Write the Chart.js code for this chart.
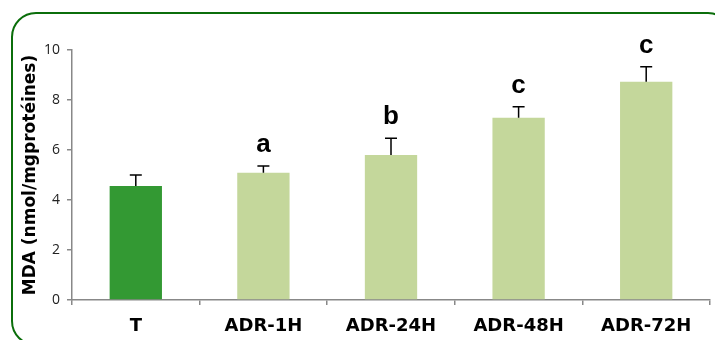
<!DOCTYPE html>
<html lang="fr">
<head>
  <meta charset="UTF-8">
  <title>MDA</title>
  <script src="https://cdn.jsdelivr.net/npm/chart.js"></script>
  <style>
    body { margin: 0; background: #fff; overflow: hidden; }
    .cadre {
      position: absolute; left: 11px; top: 12px; width: 722px; height: 334px;
      border: 2.5px solid #0b6e0b; border-radius: 25px; box-sizing: border-box;
    }
    #grafico { position: absolute; left: 0; top: 0; }
  </style>
</head>
<body>
<div class="cadre"></div>
<canvas id="grafico" width="715" height="340"></canvas>

<script>
  // valeurs
  const categories = ['T', 'ADR-1H', 'ADR-24H', 'ADR-48H', 'ADR-72H'];
  const valeurs = [4.56, 5.09, 5.8, 7.29, 8.73];
  const erreurs = [0.44, 0.27, 0.67, 0.44, 0.6];
  const lettres = ['', 'a', 'b', 'c', 'c'];
  const couleurs = ['#339933', '#c4d79b', '#c4d79b', '#c4d79b', '#c4d79b'];
  const ticksY = [0, 2, 4, 6, 8, 10];

  // barres d'erreur + lettres
  const pluginErreurs = {
    id: 'erreurs',
    afterDatasetsDraw(chart) {
      const ctx = chart.ctx;
      const x = chart.scales.x, y = chart.scales.y;
      ctx.save();
      ctx.strokeStyle = '#000';
      ctx.lineWidth = 1.5;
      for (let i = 0; i < valeurs.length; i++) {
        const px = x.getPixelForValue(i);
        const y0 = y.getPixelForValue(valeurs[i]);
        const y1 = y.getPixelForValue(valeurs[i] + erreurs[i]);
        ctx.beginPath();
        ctx.moveTo(px, y0);
        ctx.lineTo(px, y1);
        ctx.moveTo(px - 6, y1);
        ctx.lineTo(px + 6, y1);
        ctx.stroke();
        if (lettres[i]) {
          ctx.fillStyle = '#000';
          ctx.font = 'bold 26px "Liberation Sans", Arial, sans-serif';
          ctx.textAlign = 'center';
          ctx.textBaseline = 'alphabetic';
          ctx.fillText(lettres[i], px, y1 - 14);
        }
      }
      ctx.restore();
    }
  };

  new Chart(document.getElementById('grafico'), {
    type: 'bar',
    data: {
      labels: categories,
      datasets: [{
        data: valeurs,
        backgroundColor: couleurs,
        borderWidth: 0,
        barPercentage: 0.41,
        categoryPercentage: 1
      }]
    },
    options: {
      responsive: false,
      animation: false,
      layout: { padding: { left: 0, right: 5, top: 50, bottom: 0 } },
      plugins: { legend: { display: false }, tooltip: { enabled: false } },
      scales: {
        x: {
          afterFit(s) { s.height = 40; },
          border: { color: '#888', width: 1.5 },
          grid: { offset: true, drawOnChartArea: false, tickLength: 5, color: '#888', lineWidth: 1.5 },
          ticks: {
            color: '#000', padding: 11,
            font: { family: '"DejaVu Sans", sans-serif', size: 18, weight: 'bold' }
          }
        },
        y: {
          min: 0, max: 10,
          afterFit(s) { s.width = 72; },
          afterBuildTicks(s) { s.ticks = ticksY.map(v => ({ value: v })); },
          border: { color: '#888', width: 1.5 },
          grid: { drawOnChartArea: false, tickLength: 5, color: '#888', lineWidth: 1.5 },
          ticks: {
            color: '#222', padding: 7,
            font: { family: '"Open Sans", "Liberation Sans", sans-serif', size: 14 }
          },
          title: {
            display: true,
            text: 'MDA (nmol/mgprotéines)',
            color: '#000',
            padding: { top: 20, bottom: 14 },
            font: { family: '"DejaVu Sans", sans-serif', size: 17, weight: 'bold' }
          }
        }
      }
    },
    plugins: [pluginErreurs]
  });
</script>
</body>
</html>
